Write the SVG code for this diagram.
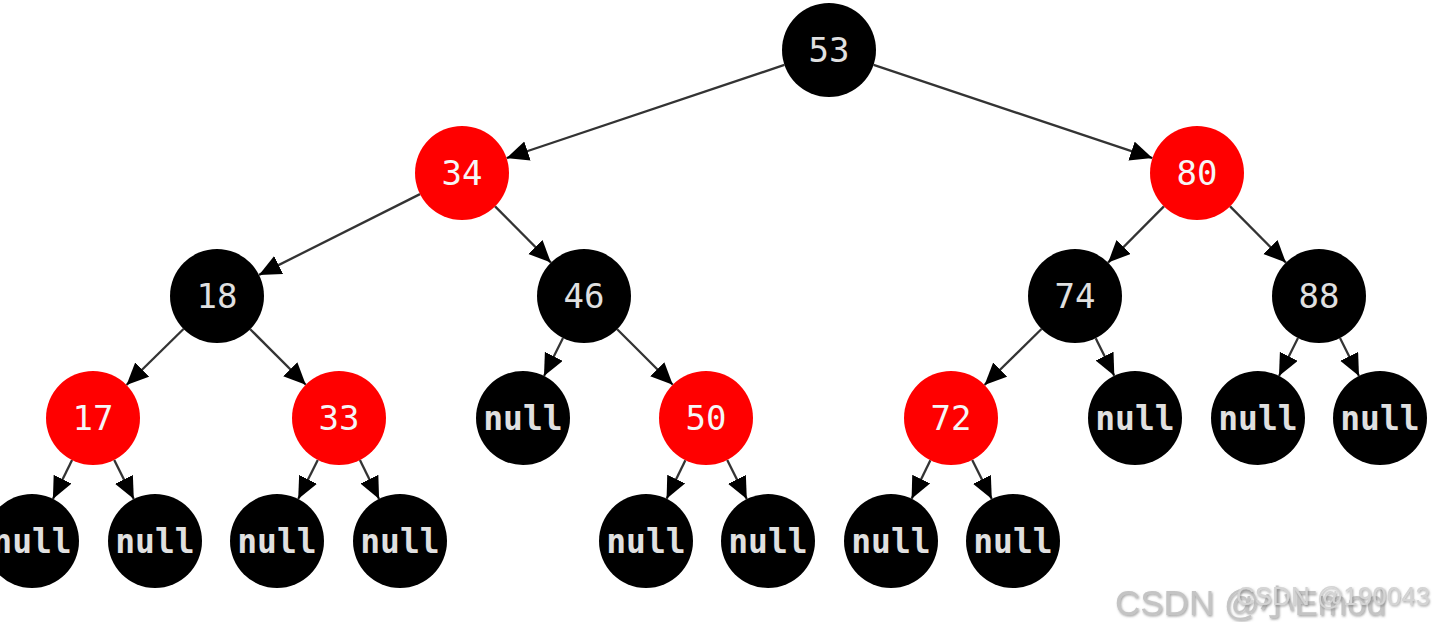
<svg xmlns="http://www.w3.org/2000/svg" width="1438" height="622" viewBox="0 0 1438 622">
<defs>
<marker id="arr" markerUnits="userSpaceOnUse" markerWidth="24" markerHeight="22" refX="22" refY="10" orient="auto">
<path d="M0,0 L22,10 L0,20 z" fill="#000"/>
</marker>
<filter id="sh" x="-5%" y="-20%" width="110%" height="150%">
<feDropShadow dx="1" dy="1.5" stdDeviation="1" flood-color="#666" flood-opacity="0.6"/>
</filter>
</defs>
<style>
.e{stroke:#333;stroke-width:2.3;fill:none;marker-end:url(#arr)}
.b{fill:#000}
.r{fill:#ff0000}
.t{font-family:"DejaVu Sans Mono","Liberation Mono",monospace;font-size:34px;text-anchor:middle;dominant-baseline:central}
.tb{fill:#e0e0e0}
.tr{fill:#f6f6f6}
.n{font-weight:bold;font-size:33px}
.wm{font-family:"Liberation Sans","Noto Sans CJK SC",sans-serif}
</style>
<rect width="1438" height="622" fill="#fff"/>
<g id="edges">
<line class="e" x1="784.4" y1="64.9" x2="506.6" y2="158.1"/>
<line class="e" x1="873.6" y1="64.9" x2="1152.4" y2="158.1"/>
<line class="e" x1="420.0" y1="194.1" x2="259.0" y2="274.9"/>
<line class="e" x1="495.1" y1="206.4" x2="550.9" y2="262.6"/>
<line class="e" x1="1163.9" y1="206.4" x2="1108.1" y2="262.6"/>
<line class="e" x1="1230.1" y1="206.4" x2="1285.9" y2="262.6"/>
<line class="e" x1="183.5" y1="329.0" x2="126.5" y2="385.0"/>
<line class="e" x1="250.2" y1="329.2" x2="305.8" y2="384.8"/>
<line class="e" x1="563.0" y1="338.0" x2="544.0" y2="376.0"/>
<line class="e" x1="617.2" y1="329.2" x2="672.8" y2="384.8"/>
<line class="e" x1="1041.5" y1="329.0" x2="984.5" y2="385.0"/>
<line class="e" x1="1095.7" y1="338.2" x2="1114.3" y2="375.8"/>
<line class="e" x1="1298.0" y1="338.0" x2="1279.0" y2="376.0"/>
<line class="e" x1="1340.0" y1="338.0" x2="1359.0" y2="376.0"/>
<line class="e" x1="72.1" y1="460.1" x2="52.9" y2="498.9"/>
<line class="e" x1="114.2" y1="460.0" x2="133.8" y2="499.0"/>
<line class="e" x1="317.8" y1="460.0" x2="298.2" y2="499.0"/>
<line class="e" x1="359.9" y1="460.1" x2="379.1" y2="498.9"/>
<line class="e" x1="685.4" y1="460.2" x2="666.6" y2="498.8"/>
<line class="e" x1="727.2" y1="460.0" x2="746.8" y2="499.0"/>
<line class="e" x1="930.4" y1="460.2" x2="911.6" y2="498.8"/>
<line class="e" x1="972.2" y1="460.0" x2="991.8" y2="499.0"/>
</g>
<g id="n53"><circle class="b" cx="829" cy="50" r="47"/><text class="t tb" x="829" y="50">53</text></g>
<g id="n34"><circle class="r" cx="462" cy="173" r="47"/><text class="t tr" x="462" y="173">34</text></g>
<g id="n80"><circle class="r" cx="1197" cy="173" r="47"/><text class="t tr" x="1197" y="173">80</text></g>
<g id="n18"><circle class="b" cx="217" cy="296" r="47"/><text class="t tb" x="217" y="296">18</text></g>
<g id="n46"><circle class="b" cx="584" cy="296" r="47"/><text class="t tb" x="584" y="296">46</text></g>
<g id="n74"><circle class="b" cx="1075" cy="296" r="47"/><text class="t tb" x="1075" y="296">74</text></g>
<g id="n88"><circle class="b" cx="1319" cy="296" r="47"/><text class="t tb" x="1319" y="296">88</text></g>
<g id="n17"><circle class="r" cx="93" cy="418" r="47"/><text class="t tr" x="93" y="418">17</text></g>
<g id="n33"><circle class="r" cx="339" cy="418" r="47"/><text class="t tr" x="339" y="418">33</text></g>
<g id="null46"><circle class="b" cx="523" cy="418" r="47"/><text class="t tb n" x="523" y="418">null</text></g>
<g id="n50"><circle class="r" cx="706" cy="418" r="47"/><text class="t tr" x="706" y="418">50</text></g>
<g id="n72"><circle class="r" cx="951" cy="418" r="47"/><text class="t tr" x="951" y="418">72</text></g>
<g id="null74"><circle class="b" cx="1135" cy="418" r="47"/><text class="t tb n" x="1135" y="418">null</text></g>
<g id="null88a"><circle class="b" cx="1258" cy="418" r="47"/><text class="t tb n" x="1258" y="418">null</text></g>
<g id="null88b"><circle class="b" cx="1380" cy="418" r="47"/><text class="t tb n" x="1380" y="418">null</text></g>
<g id="null17a"><circle class="b" cx="32" cy="541" r="47"/><text class="t tb n" x="32" y="541">null</text></g>
<g id="null17b"><circle class="b" cx="155" cy="541" r="47"/><text class="t tb n" x="155" y="541">null</text></g>
<g id="null33a"><circle class="b" cx="277" cy="541" r="47"/><text class="t tb n" x="277" y="541">null</text></g>
<g id="null33b"><circle class="b" cx="400" cy="541" r="47"/><text class="t tb n" x="400" y="541">null</text></g>
<g id="null50a"><circle class="b" cx="646" cy="541" r="47"/><text class="t tb n" x="646" y="541">null</text></g>
<g id="null50b"><circle class="b" cx="768" cy="541" r="47"/><text class="t tb n" x="768" y="541">null</text></g>
<g id="null72a"><circle class="b" cx="891" cy="541" r="47"/><text class="t tb n" x="891" y="541">null</text></g>
<g id="null72b"><circle class="b" cx="1013" cy="541" r="47"/><text class="t tb n" x="1013" y="541">null</text></g>
<g id="watermark">
<text class="wm" x="1115" y="615" font-size="35" fill="#c4c4c4" filter="url(#sh)">CSDN @小Emod</text>
<text class="wm" x="1236" y="605" font-size="26" fill="#d4d4d4" filter="url(#sh)">CSDN @190043</text>
</g>
</svg>
